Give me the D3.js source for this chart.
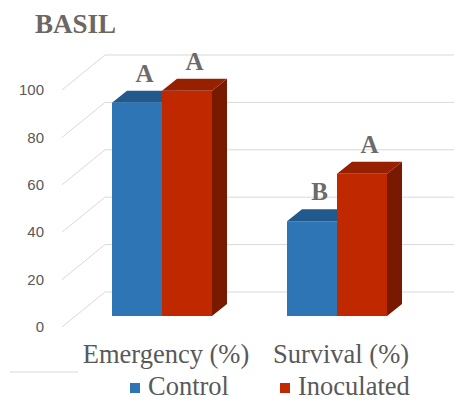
<!DOCTYPE html>
<html>
<head>
<meta charset="utf-8">
<script src="https://cdn.jsdelivr.net/npm/d3@7"></script>
<style>
  html, body { margin: 0; padding: 0; background: #fff; }
  svg { display: block; }
</style>
</head>
<body>
<div id="chart"></div>
<script>
// Data
const categories = ["Emergency (%)", "Survival (%)"];
const seriesNames = ["Control", "Inoculated"];
const controlValues = [90, 40];
const inoculatedValues = [95, 60];
const controlLetters = ["A", "B"];
const inoculatedLetters = ["A", "A"];
const yTicks = [0, 20, 40, 60, 80, 100];

const seriesValues = [controlValues, inoculatedValues];
const seriesLetters = [controlLetters, inoculatedLetters];
const colors = {
  Control:    { front: "#2e75b6", top: "#21598d", side: "#1c4c78" },
  Inoculated: { front: "#c02800", top: "#962000", side: "#781a00" }
};
const serif = "'Liberation Serif', 'Times New Roman', serif";

const W = 454, H = 401;
const svg = d3.select("#chart").append("svg").attr("width", W).attr("height", H);

// Scales: front-plane value scale of the 3D wall, category bands on the bar plane
const y = d3.scaleLinear().domain([0, 100]).range([327, 90]);
const wall = { dx: 43, dy: -35 };        // depth of the side/back walls
const barShift = -11;                    // bars stand a little behind the front edge
const barDepth = { dx: 15, dy: -12 };    // depth of each bar
const x0 = d3.scaleBand().domain(categories).range([74.5, 424.5]).padding(0);
const x1 = d3.scaleBand().domain(seriesNames).range([0, 100]).padding(0);
const groupInset = (x0.bandwidth() - 100) / 2;
const wallX = 62;

// Gridlines: diagonal on the side wall, then flat along the back wall
const grid = svg.append("g").attr("stroke", "#d9d9d9").attr("stroke-width", 1).attr("fill", "none");
yTicks.forEach(v => {
  grid.append("path")
    .attr("d", d3.line()([
      [wallX, y(v)],
      [wallX + wall.dx, y(v) + wall.dy],
      [W, y(v) + wall.dy]
    ]));
});

// Tick labels
svg.append("g").selectAll("text").data(yTicks).join("text")
  .attr("x", 44).attr("y", d => y(d)).attr("dy", "0.35em")
  .attr("text-anchor", "end")
  .attr("font-family", "'Liberation Sans', Arial, sans-serif")
  .attr("font-size", 15).attr("fill", "#595959")
  .text(d => d);

// Bars
const bars = svg.append("g");
categories.forEach((cat, ci) => {
  seriesNames.forEach((s, si) => {
    const v = seriesValues[si][ci];
    const bx = x0(cat) + groupInset + x1(s);
    const bw = x1.bandwidth();
    const yt = y(v) + barShift;
    const yb = y(0) + barShift;
    const c = colors[s];
    const g = bars.append("g");
    // right side face
    g.append("path").attr("fill", c.side).attr("d", d3.line()([
      [bx + bw, yt], [bx + bw + barDepth.dx, yt + barDepth.dy],
      [bx + bw + barDepth.dx, yb + barDepth.dy], [bx + bw, yb]
    ]) + "Z");
    // top face
    g.append("path").attr("fill", c.top).attr("d", d3.line()([
      [bx, yt], [bx + barDepth.dx, yt + barDepth.dy],
      [bx + bw + barDepth.dx, yt + barDepth.dy], [bx + bw, yt]
    ]) + "Z");
    // front face
    g.append("rect").attr("x", bx).attr("y", yt).attr("width", bw).attr("height", yb - yt)
      .attr("fill", c.front);
    // significance letter
    g.append("text")
      .attr("x", bx + bw / 2 + barDepth.dx / 2)
      .attr("y", yt + barDepth.dy - 9)
      .attr("text-anchor", "middle")
      .attr("font-family", serif)
      .attr("font-weight", "bold").attr("font-size", 25)
      .attr("fill", "#6b6b6b")
      .text(seriesLetters[si][ci]);
  });
});

// Category labels
svg.append("g").selectAll("text").data(categories).join("text")
  .attr("x", d => x0(d) + groupInset + 50 + 4)
  .attr("y", 363)
  .attr("text-anchor", "middle")
  .attr("font-family", serif)
  .attr("font-size", 26.5).attr("fill", "#595959")
  .text(d => d);

// Title
svg.append("text").attr("x", 35).attr("y", 33)
  .attr("font-family", serif)
  .attr("font-weight", "bold").attr("font-size", 27)
  .attr("fill", "#6d6762")
  .text("BASIL");

// Short rule under the axis area
svg.append("line").attr("x1", 10).attr("x2", 78).attr("y1", 372).attr("y2", 372)
  .attr("stroke", "#d9d9d9");

// Legend
const legendX = [130, 280];
const legend = svg.append("g");
seriesNames.forEach((s, i) => {
  legend.append("rect").attr("x", legendX[i]).attr("y", 383).attr("width", 10).attr("height", 10)
    .attr("fill", colors[s].front);
  legend.append("text").attr("x", legendX[i] + 18).attr("y", 395)
    .attr("font-family", serif)
    .attr("font-size", 26.5).attr("fill", "#595959")
    .text(s);
});
</script>
</body>
</html>
